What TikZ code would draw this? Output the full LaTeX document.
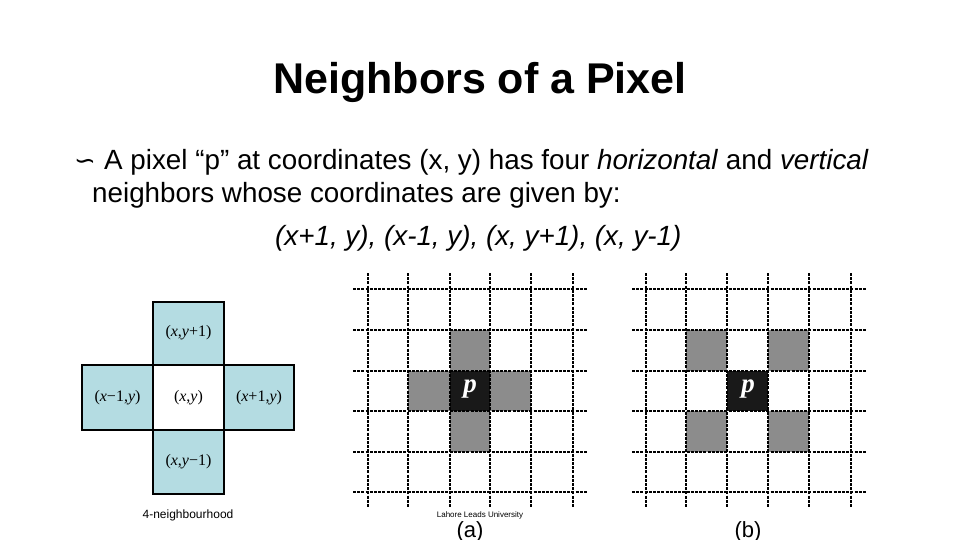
\documentclass[tikz,border=0pt]{standalone}
\usepackage{fontspec}
\setmainfont{Liberation Sans}
\newfontfamily\dejavu{DejaVu Sans}
\newfontfamily\serifm{Liberation Serif}
\begin{document}
\begin{tikzpicture}[x=1pt,y=-1pt,
  gridline/.style={line width=1.3pt,dash pattern=on 3pt off 1.2pt},
  graycell/.style={fill=black!45},
  blackcell/.style={fill=black!90}]
\useasboundingbox (0,0) rectangle (960,540);
\fill[white] (0,0) rectangle (960,540);
\node (title) at (480,82) {\fontsize{43}{48}\selectfont\bfseries Neighbors of a Pixel};
\node[anchor=base west,inner sep=0] (bul) at (74,170) {\fontsize{26}{30}\selectfont\dejavu ∽};
\node[anchor=base west,inner sep=0] (l1) at (104,170) {\fontsize{27.8}{32}\selectfont A pixel “p” at coordinates (x, y) has four \textit{horizontal} and \textit{vertical}};
\node[anchor=base west,inner sep=0] (l2) at (92,202) {\fontsize{27.8}{32}\selectfont neighbors whose coordinates are given by:};
\node[anchor=base west,inner sep=0] (l3) at (275,245) {\fontsize{27.8}{32}\selectfont\itshape (x+1, y), (x-1, y), (x, y+1), (x, y-1)};
% cross
\definecolor{lblue}{RGB}{180,220,226}
\tikzset{crossbox/.style={draw=black,line width=1.6pt,fill=lblue}}
\draw[crossbox] (153,302) rectangle (224,365);
\draw[crossbox] (82,365) rectangle (153,430);
\draw[crossbox] (224,365) rectangle (294,430);
\draw[crossbox] (153,430) rectangle (224,494);
\draw[line width=1.6pt] (153,365) rectangle (224,430);
\begin{scope}[font=\serifm\fontsize{16}{18}\selectfont]
\node (n1) at (188.5,333) {(\textit{x},\textit{y}+1)};
\node (n2) at (117.5,398) {(\textit{x}−1,\textit{y})};
\node (n3) at (188.5,398) {(\textit{x},\textit{y})};
\node (n4) at (259,398) {(\textit{x}+1,\textit{y})};
\node (n5) at (188.5,462) {(\textit{x},\textit{y}−1)};
\end{scope}
\node (cap) at (188,515) {\fontsize{12}{14}\selectfont 4-neighbourhood};
% grid a
\fill[graycell] (450,330) rectangle (490,371);
\fill[graycell] (408,371) rectangle (450,411);
\fill[graycell] (490,371) rectangle (531,411);
\fill[graycell] (450,411) rectangle (490,452);
\fill[blackcell] (450,371) rectangle (490,411);
\node[text=white] (pa) at (470,389) {\serifm\fontsize{27}{28}\selectfont\bfseries\itshape p};
\foreach \x in {368,408,450,490,531,573} \draw[gridline] (\x,273) -- (\x,507);
\foreach \y in {289,330,371,411,452,492} \draw[gridline] (353,\y) -- (588,\y);
% grid b
\fill[graycell] (686,330) rectangle (727,371);
\fill[graycell] (768,330) rectangle (809,371);
\fill[graycell] (686,411) rectangle (727,452);
\fill[graycell] (768,411) rectangle (809,452);
\fill[blackcell] (727,371) rectangle (768,411);
\node[text=white] (pb) at (748,389) {\serifm\fontsize{27}{28}\selectfont\bfseries\itshape p};
\foreach \x in {646,686,727,768,809,851} \draw[gridline] (\x,273) -- (\x,507);
\foreach \y in {289,330,371,411,452,492} \draw[gridline] (632,\y) -- (867,\y);
\node (lu) at (480,515) {\fontsize{8}{9}\selectfont Lahore Leads University};
\node (la) at (470,532) {\fontsize{22}{24}\selectfont (a)};
\node (lb) at (748,532) {\fontsize{22}{24}\selectfont (b)};
\end{tikzpicture}
\end{document}
